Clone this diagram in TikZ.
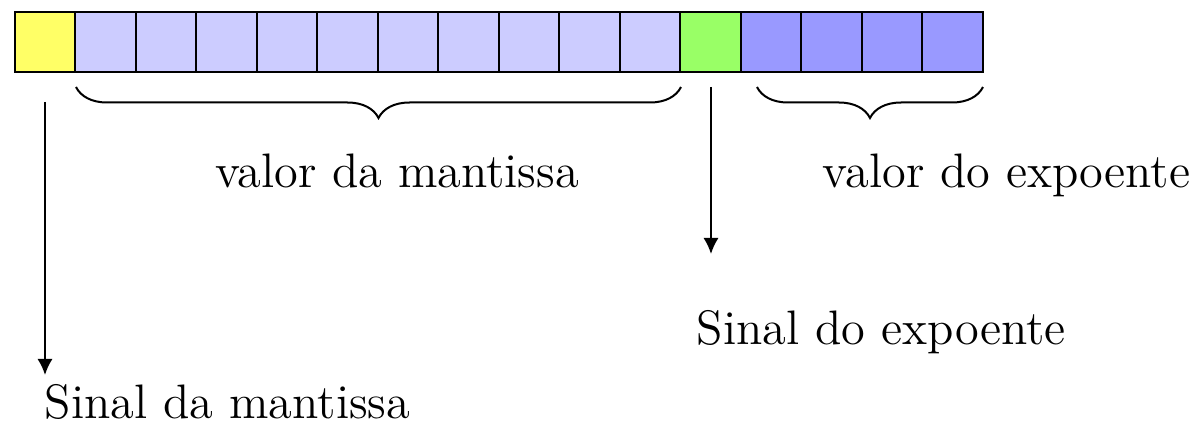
\documentclass[tikz,border=0pt]{standalone}
\usetikzlibrary{decorations.pathreplacing,arrows.meta}
\definecolor{signyellow}{HTML}{FFFF66}
\definecolor{mantblue}{HTML}{CCCCFF}
\definecolor{expgreen}{HTML}{99FF66}
\definecolor{expblue}{HTML}{9999FF}
\begin{document}
\begin{tikzpicture}[x=0.25pt,y=-0.25pt,line width=0.5pt,
  bit/.style={draw=black,minimum width=15.125pt,minimum height=15pt,inner sep=0pt,outer sep=0pt,anchor=north west},
  lbl/.style={anchor=base west,inner sep=0pt,font=\fontsize{12.1pt}{14.5pt}\selectfont},
  brc/.style={decorate,decoration={brace,mirror,amplitude=7.75pt}},
  arr/.style={-{Latex[length=4pt,width=3.8pt]}}]
\useasboundingbox (0,0) rectangle (1193,439);
% sign bit of the mantissa
\node[bit,fill=signyellow] (b0) at (15,12) {};
% mantissa bits
\foreach \i in {1,...,10}{
  \node[bit,fill=mantblue] (b\i) at ({15+60.5*\i},12) {};
}
% sign bit of the exponent
\node[bit,fill=expgreen] (b11) at ({15+60.5*11},12) {};
% exponent bits
\foreach \i in {12,...,15}{
  \node[bit,fill=expblue] (b\i) at ({15+60.5*\i},12) {};
}
% braces
\coordinate (m1) at (76,87);
\coordinate (m2) at (681,87);
\coordinate (e1) at (757,87);
\coordinate (e2) at (983,87);
\draw[brc] (m1) -- (m2);
\draw[brc] (e1) -- (e2);
% labels
\node[lbl] (tm) at (214,188) {valor da mantissa};
\node[lbl] (te) at (822,188) {valor do expoente};
\node[lbl] (se) at (696,345) {Sinal do expoente};
\node[lbl] (sm) at (44,419) {Sinal da mantissa};
% arrows
\coordinate (a0) at (45,102);
\coordinate (a0e) at (45,375);
\coordinate (a1) at (711,87);
\coordinate (a1e) at (711,254);
\draw[arr] (a0) -- (a0e);
\draw[arr] (a1) -- (a1e);
\end{tikzpicture}
\end{document}
